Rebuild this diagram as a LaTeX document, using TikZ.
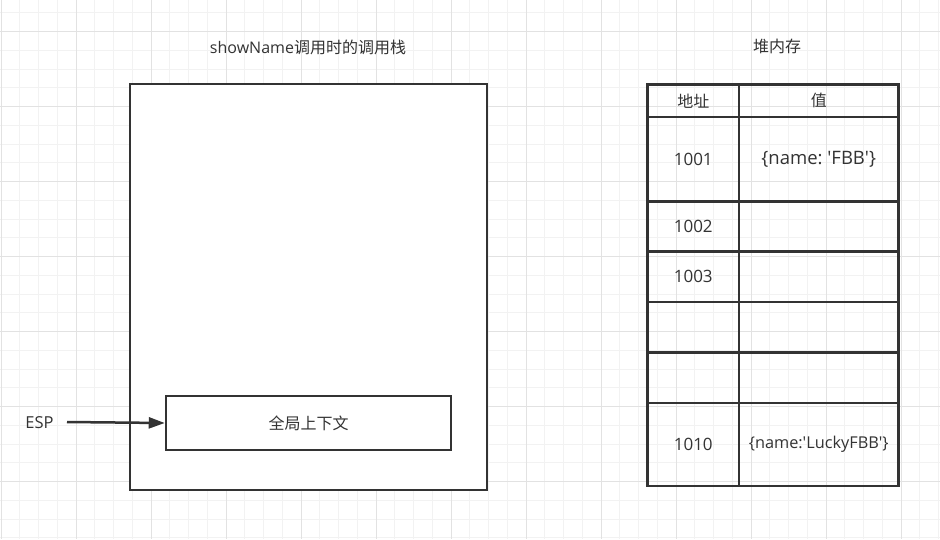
\documentclass[tikz,border=0pt]{standalone}
\usepackage{fontspec}
\setmainfont{Open Sans}[Ligatures=TeXOff]
\newfontfamily\cjk{Noto Sans CJK SC}
\usetikzlibrary{arrows.meta}
\definecolor{ink}{HTML}{333333}
\definecolor{gridminor}{HTML}{F2F2F2}
\definecolor{gridmajor}{HTML}{E2E2E2}
\newcommand{\fs}[1]{\fontsize{#1}{#1}\selectfont}
\tikzset{
  box/.style={draw=ink, line width=2.5pt, fill=white, inner sep=0pt},
  cell/.style={draw=ink, line width=2.5pt, inner sep=0pt, text=ink},
  lbl/.style={text=ink, inner sep=0pt},
  conn/.style={draw=ink, line width=2.5pt, -{Triangle[length=16pt,width=11pt]}}
}
\begin{document}
\begin{tikzpicture}[x=1pt,y=-1pt]
\useasboundingbox (0,0) rectangle (940,539);
\fill[white] (0,0) rectangle (940,539);
% grid
\foreach \k in {0,...,50} {
  \pgfmathsetmacro{\gx}{1+18.75*\k}
  \draw[gridminor, line width=1pt] (\gx,0) -- (\gx,539);
}
\foreach \k in {0,...,29} {
  \pgfmathsetmacro{\gy}{12.9+18.75*\k}
  \draw[gridminor, line width=1pt] (0,\gy) -- (940,\gy);
}
\foreach \k in {0,...,12} {
  \pgfmathsetmacro{\gx}{1+75*\k}
  \draw[gridmajor, line width=1pt] (\gx,0) -- (\gx,539);
}
\foreach \k in {0,...,7} {
  \pgfmathsetmacro{\gy}{31.65+75*\k}
  \draw[gridmajor, line width=1pt] (0,\gy) -- (940,\gy);
}
% titles
\node[lbl, font=\fs{16}] (title1) at (308,47) {showName{\cjk 调用时的调用栈}};
\node[lbl, font=\fs{16}] (title2) at (777,46) {\cjk 堆内存};
% call stack
\node[box, minimum width=357pt, minimum height=406pt] (stack) at (308.5,287) {};
\node[box, minimum width=285pt, minimum height=54pt, font=\fs{16}, text=ink] (ctx) at (308.5,423) {\cjk 全局上下文};
\node[lbl, font=\fs{16.5}] (esp) at (39.5,423) {ESP};
\coordinate (espstart) at (67,422);
\draw[conn] (espstart) -- (ctx.west);
% heap table
\node[cell, minimum width=91.5pt, minimum height=32.5pt, font=\fs{16}] (h1) at (693.25,100.75) {\cjk 地址};
\node[cell, minimum width=159.5pt, minimum height=32.5pt, font=\fs{16}] (h2) at (818.75,100.75) {\cjk 值};
\node[cell, minimum width=91.5pt, minimum height=84.5pt, font=\fs{17}] (a1) at (693.25,159.25) {1001};
\node[cell, minimum width=159.5pt, minimum height=84.5pt, font=\fs{18.5}] (v1) at (818.75,159.25) {\{name:\ 'FBB'\}};
\node[cell, minimum width=91.5pt, minimum height=50pt, font=\fs{17}] (a2) at (693.25,226.5) {1002};
\node[cell, minimum width=159.5pt, minimum height=50pt] (v2) at (818.75,226.5) {};
\node[cell, minimum width=91.5pt, minimum height=50.5pt, font=\fs{17}] (a3) at (693.25,276.75) {1003};
\node[cell, minimum width=159.5pt, minimum height=50.5pt] (v3) at (818.75,276.75) {};
\node[cell, minimum width=91.5pt, minimum height=50.5pt] (a4) at (693.25,327.25) {};
\node[cell, minimum width=159.5pt, minimum height=50.5pt] (v4) at (818.75,327.25) {};
\node[cell, minimum width=91.5pt, minimum height=50.5pt] (a5) at (693.25,377.75) {};
\node[cell, minimum width=159.5pt, minimum height=50.5pt] (v5) at (818.75,377.75) {};
\node[cell, minimum width=91.5pt, minimum height=83pt, font=\fs{17}] (a6) at (693.25,444.5) {1010};
\node[cell, minimum width=159.5pt, minimum height=83pt, font=\fs{16.3}] (v6) at (818.75,444.5) {\{name:'LuckyFBB'\}};
\end{tikzpicture}
\end{document}
